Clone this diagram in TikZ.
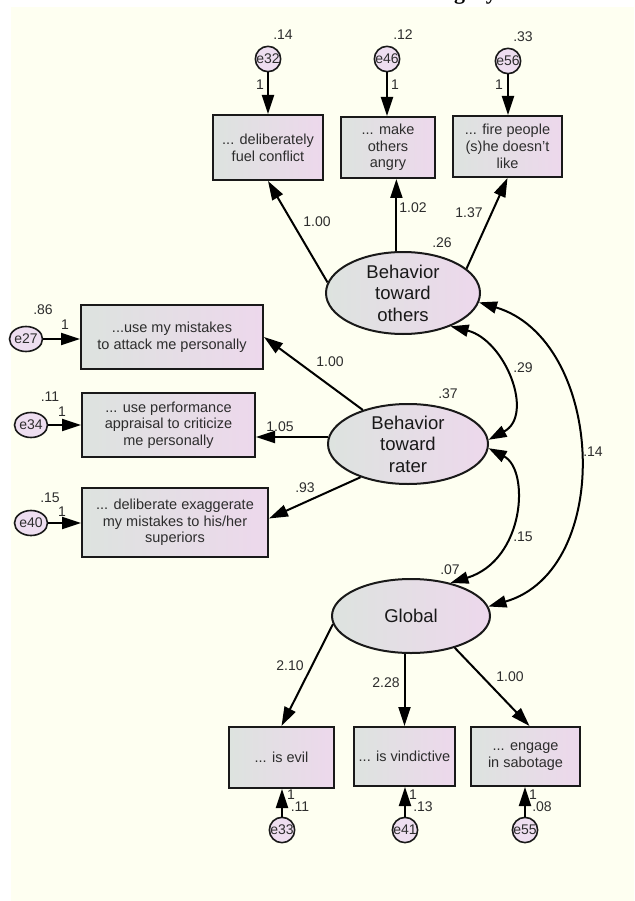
\documentclass[tikz,border=0pt]{standalone}
\usepackage{fontspec}
\setmainfont{Liberation Sans}
\newfontfamily\titlefont{Liberation Serif}
\usetikzlibrary{shapes.geometric,arrows.meta}
\definecolor{bgc}{RGB}{254,255,241}
\definecolor{lc}{RGB}{221,227,223}
\definecolor{rc}{RGB}{237,216,236}
\definecolor{ec}{RGB}{238,222,240}
\definecolor{txt}{RGB}{45,45,45}
\begin{document}
\begin{tikzpicture}[x=1pt,y=-1pt,
  obs/.style={draw=black!90, line width=2pt, left color=lc, right color=rc, inner sep=0pt, align=center, text=txt, font=\fontsize{14.5}{16.7}\selectfont},
  lat/.style={ellipse, draw=black!90, line width=2pt, left color=lc, right color=rc, inner sep=0pt},
  lattext/.style={align=center, inner sep=0pt, text=black!90, font=\fontsize{18.5}{21.5}\selectfont},
  err/.style={circle, draw=black!90, line width=1.6pt, fill=ec, inner sep=0pt, minimum size=23pt, text=txt, font=\fontsize{14}{14}\selectfont},
  errw/.style={ellipse, draw=black!90, line width=1.6pt, fill=ec, inner sep=0pt, minimum width=32pt, minimum height=25pt, text=txt, font=\fontsize{14}{14}\selectfont},
  lbl/.style={font=\fontsize{14}{14}\selectfont, text=txt, inner sep=0pt},
  reg/.style={line width=2pt, -{Triangle[length=19pt,width=12pt]}},
  cov/.style={line width=2pt, {Triangle[length=18pt,width=12pt]}-{Triangle[length=18pt,width=12pt]}}
]
\useasboundingbox (0,0) rectangle (634,901);
\fill[white] (0,0) rectangle (634,901);
\fill[bgc] (11,7) rectangle (634,901);
\begin{scope}
\clip (0,0) rectangle (634,7);
\node[anchor=base east, inner sep=0pt, font=\titlefont\bfseries\fontsize{22}{24}\selectfont] (title) at (497,0) {Category};
\end{scope}

% latent variables
\node[lat, minimum width=154pt, minimum height=82pt] (oth) at (403,293) {};
\node[lattext] (othT) at (oth) {Behavior\\toward\\others};
\node[lat, minimum width=160pt, minimum height=80pt] (rat) at (408,444) {};
\node[lattext] (ratT) at (rat) {Behavior\\toward\\rater};
\node[lat, minimum width=158pt, minimum height=74pt] (glo) at (411,616) {};
\node[lattext] (gloT) at (glo) {Global};

% observed variables
\node[obs, minimum width=110pt, minimum height=65pt] (b1) at (268,147.5) {... deliberately\\fuel conflict};
\node[obs, minimum width=94pt, minimum height=61pt] (b2) at (388,147.5) {... make\\others\\angry};
\node[obs, minimum width=109pt, minimum height=61pt] (b3) at (507.5,146.5) {... fire people\\(s)he doesn't\\like};
\node[obs, minimum width=182pt, minimum height=64pt] (bA) at (172,337) {...use my mistakes\\to attack me personally};
\node[obs, minimum width=173pt, minimum height=64pt] (bB) at (168.5,425) {... use performance\\appraisal to criticize\\me personally};
\node[obs, minimum width=186pt, minimum height=69pt] (bC) at (175,522.5) {... deliberate exaggerate\\my mistakes to his/her\\superiors};
\node[obs, minimum width=105pt, minimum height=61pt] (bE) at (281.5,757.5) {... is evil};
\node[obs, minimum width=101pt, minimum height=59pt] (bV) at (404.5,756.5) {... is vindictive};
\node[obs, minimum width=109pt, minimum height=59pt] (bS) at (525.5,756.5) {... engage\\in sabotage};

% error terms
\node[err] (e32) at (268,59) {e32};
\node[err] (e46) at (387,59) {e46};
\node[err] (e56) at (508,61) {e56};
\node[errw] (e27) at (26,339) {e27};
\node[errw] (e34) at (31,425) {e34};
\node[errw] (e40) at (31,523) {e40};
\node[err] (e33) at (282,830) {e33};
\node[err] (e41) at (405,830) {e41};
\node[err] (e55) at (525,830) {e55};

% error arrows
\draw[reg] (e32) -- (e32 |- b1.north);
\draw[reg] (e46) -- (e46 |- b2.north);
\draw[reg] (e56) -- (e56 |- b3.north);
\draw[reg] (e27) -- (e27 -| bA.west);
\draw[reg] (e34) -- (e34 -| bB.west);
\draw[reg] (e40) -- (e40 -| bC.west);
\draw[reg] (e33) -- (e33 |- bE.south);
\draw[reg] (e41) -- (e41 |- bV.south);
\draw[reg] (e55) -- (e55 |- bS.south);

% loadings
\draw[reg] (oth.172) -- (b1.south);
\draw[reg] (oth.99) -- (oth.99 |- b2.south);
\draw[reg] (oth.21) -- (b3.south);
\draw[reg] (rat.143) -- (bA.east);
\draw[reg] (rat.175) -- (rat.175 -| bB.east);
\draw[reg] (rat.215) -- ([yshift=4pt]bC.east);
\draw[reg] (glo.186) -- (bE.north);
\draw[reg] (glo.south -| bV.north) -- (bV.north);
\draw[reg] (glo.324) -- ([xshift=4pt]bS.north);

% covariances
\draw[cov] (oth.-35) .. controls (505,340) and (535,415) .. (rat.3);
\draw[cov] (rat.-3) .. controls (530,470) and (525,560) .. (glo.40);
\draw[cov] (oth.-7) .. controls (605,340) and (615,570) .. (glo.7);

% labels
\node[lbl] (l1) at (283,35) {.14};
\node[lbl] (l2) at (403,35) {.12};
\node[lbl] (l3) at (523,37) {.33};
\node[lbl] (l4) at (260,85) {1};
\node[lbl] (l5) at (395,85) {1};
\node[lbl] (l6) at (499,85) {1};
\node[lbl] (l7) at (317,222) {1.00};
\node[lbl] (l8) at (413,208) {1.02};
\node[lbl] (l9) at (469,213) {1.37};
\node[lbl] (l10) at (442,243) {.26};
\node[lbl] (l11) at (43,310) {.86};
\node[lbl] (l12) at (65,325) {1};
\node[lbl] (l13) at (50,397) {.11};
\node[lbl] (l14) at (62,412) {1};
\node[lbl] (l15) at (50,498) {.15};
\node[lbl] (l16) at (62,512) {1};
\node[lbl] (l17) at (330,362) {1.00};
\node[lbl] (l18) at (280,427) {1.05};
\node[lbl] (l19) at (305,488) {.93};
\node[lbl] (l20) at (448,394) {.37};
\node[lbl] (l21) at (523,368) {.29};
\node[lbl] (l22) at (523,537) {.15};
\node[lbl] (l23) at (593,452) {.14};
\node[lbl] (l24) at (450,570) {.07};
\node[lbl] (l25) at (290,666) {2.10};
\node[lbl] (l26) at (386,683) {2.28};
\node[lbl] (l27) at (510,677) {1.00};
\node[lbl] (l28) at (291,795) {1};
\node[lbl] (l29) at (300,807) {.11};
\node[lbl] (l30) at (413,795) {1};
\node[lbl] (l31) at (423,807) {.13};
\node[lbl] (l32) at (533,795) {1};
\node[lbl] (l33) at (542,807) {.08};
\end{tikzpicture}
\end{document}
